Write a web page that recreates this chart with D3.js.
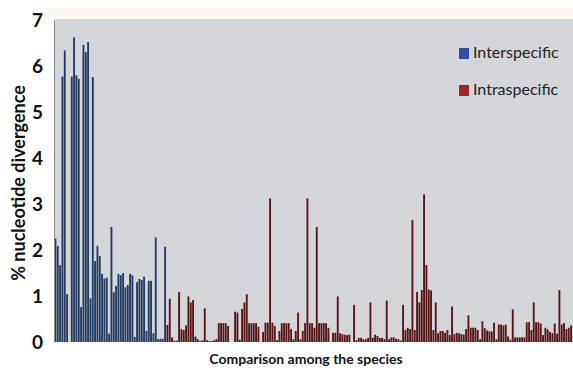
<!DOCTYPE html>
<html>
<head>
<meta charset="utf-8">
<script src="https://cdn.jsdelivr.net/npm/d3@7"></script>
<style>
  body { margin: 0; background: #fff; }
  svg { display: block; }
</style>
</head>
<body>
<svg id="chart"></svg>
<script>
// values, left to right
const interspecific = [
  2.25, 2.09, 1.67, 5.77, 6.34, 1.04, 0.0, 5.77, 6.62, 5.80, 5.72, 0.76,
  6.46, 6.30, 6.52, 0.95, 5.76, 1.76, 2.09, 1.87, 1.48, 1.38, 1.40, 0.18,
  2.50, 1.08, 1.22, 1.48, 1.45, 1.50, 1.19, 1.24, 1.48, 1.45, 0.11, 1.30,
  1.37, 1.35, 1.42, 0.24, 1.33, 1.33, 0.19, 2.27, 0.06, 0.07, 0.07, 2.07
];

const intraspecific = [
  0.37, 0.94, 0.10, 0.03, 0.03, 1.09, 0.28, 0.26, 0.36, 0.99, 0.86, 0.91,
  0.12, 0.06, 0.02, 0.04, 0.73, 0.04, 0.02, 0.02, 0.04, 0.06, 0.41, 0.41,
  0.41, 0.41, 0.35, 0.0, 0.0, 0.66, 0.64, 0.05, 0.72, 0.86, 1.04, 0.41,
  0.41, 0.41, 0.41, 0.33, 0.0, 0.22, 0.42, 0.42, 3.12, 0.42, 0.35, 0.04,
  0.24, 0.41, 0.41, 0.41, 0.41, 0.28, 0.06, 0.24, 0.64, 0.06, 0.24, 0.41,
  3.12, 0.41, 0.41, 0.31, 2.50, 0.41, 0.41, 0.41, 0.41, 0.31, 0.0, 0.20,
  0.20, 0.99, 0.19, 0.17, 0.16, 0.15, 0.16, 0.0, 0.81, 0.04, 0.09, 0.09,
  0.06, 0.06, 0.09, 0.86, 0.09, 0.16, 0.13, 0.09, 0.09, 0.06, 0.90, 0.06,
  0.10, 0.10, 0.07, 0.06, 0.03, 0.81, 0.26, 0.31, 0.28, 2.65, 0.26, 1.09,
  0.86, 1.13, 3.21, 1.67, 1.14, 1.12, 0.26, 0.86, 0.19, 0.24, 0.24, 0.20,
  0.26, 0.15, 0.77, 0.17, 0.20, 0.19, 0.17, 0.16, 0.28, 0.58, 0.31, 0.31,
  0.31, 0.26, 0.06, 0.45, 0.30, 0.25, 0.23, 0.23, 0.42, 0.06, 0.38, 0.38,
  0.36, 0.38, 0.12, 0.05, 0.71, 0.10, 0.10, 0.10, 0.10, 0.10, 0.43, 0.43,
  0.26, 0.86, 0.43, 0.43, 0.40, 0.15, 0.31, 0.27, 0.22, 0.19, 0.40, 0.18,
  1.13, 0.38, 0.41, 0.28, 0.31, 0.36
];

const seriesNames = ["Interspecific", "Intraspecific"];
const yTicks = [0, 1, 2, 3, 4, 5, 6, 7];

const width = 573, height = 368;
const margin = { top: 20, right: 1, bottom: 26, left: 54 };

const colors = { Interspecific: "#233a62", Intraspecific: "#561618" };
const legendColors = { Interspecific: "#2f4fa8", Intraspecific: "#a2252a" };

let bars = [];
interspecific.forEach(v => bars.push({ series: "Interspecific", value: v }));
intraspecific.forEach(v => bars.push({ series: "Intraspecific", value: v }));
bars.forEach((d, i) => d.i = i);

const svg = d3.select("#chart")
  .attr("width", width)
  .attr("height", height);

// faint cream strip above the plot
svg.append("rect")
  .attr("x", 48).attr("y", 8)
  .attr("width", width - 48).attr("height", 12)
  .attr("fill", "#fcf7f1");

const x = d3.scaleBand()
  .domain(bars.map(d => d.i))
  .range([margin.left + 0.5, width - margin.right])
  .paddingInner(0.2);

const y = d3.scaleLinear()
  .domain([0, 7])
  .range([height - margin.bottom, margin.top]);

// plot background
svg.append("rect")
  .attr("x", margin.left)
  .attr("y", y(7) - 1)
  .attr("width", width - margin.left)
  .attr("height", y(0) - y(7) + 1)
  .attr("fill", "#d5d6da");

svg.selectAll(".bar")
  .data(bars)
  .enter()
  .append("rect")
  .attr("class", "bar")
  .attr("x", d => x(d.i))
  .attr("y", d => y(d.value))
  .attr("width", x.bandwidth())
  .attr("height", d => y(0) - y(d.value))
  .attr("fill", d => colors[d.series]);

// y axis
const yAxis = d3.axisLeft(y).tickValues(yTicks).tickFormat(d3.format("d")).tickSize(0).tickPadding(11);
const gy = svg.append("g")
  .attr("transform", "translate(" + margin.left + ",0)")
  .call(yAxis);
gy.select(".domain").attr("stroke", "#8a8a8a").attr("stroke-width", 1);
gy.selectAll("text")
  .attr("font-family", "Lato, 'Open Sans', sans-serif")
  .attr("font-weight", "bold")
  .attr("font-size", 19)
  .attr("fill", "#111");

// axis titles
svg.append("text")
  .attr("transform", "translate(25," + ((y(0) + y(7)) / 2 + 2) + ") rotate(-90)")
  .attr("text-anchor", "middle")
  .attr("font-family", "Lato, 'Open Sans', sans-serif")
  .attr("font-weight", "bold")
  .attr("font-size", 18)
  .attr("fill", "#111")
  .text("% nucleotide divergence");

svg.append("text")
  .attr("x", 306)
  .attr("y", 364)
  .attr("text-anchor", "middle")
  .attr("font-family", "Lato, 'Open Sans', sans-serif")
  .attr("font-weight", "bold")
  .attr("font-size", 14)
  .attr("fill", "#111")
  .text("Comparison among the species");

// legend
const legend = svg.append("g").attr("transform", "translate(459,48)");
seriesNames.forEach((name, k) => {
  const row = legend.append("g").attr("transform", "translate(0," + (k * 37) + ")");
  row.append("rect")
    .attr("width", 10).attr("height", 11)
    .attr("fill", legendColors[name]);
  row.append("text")
    .attr("x", 14).attr("y", 10)
    .attr("font-family", "Lato, 'Open Sans', sans-serif")
    .attr("font-size", 16)
    .attr("fill", "#222")
    .text(name);
});
</script>
</body>
</html>
